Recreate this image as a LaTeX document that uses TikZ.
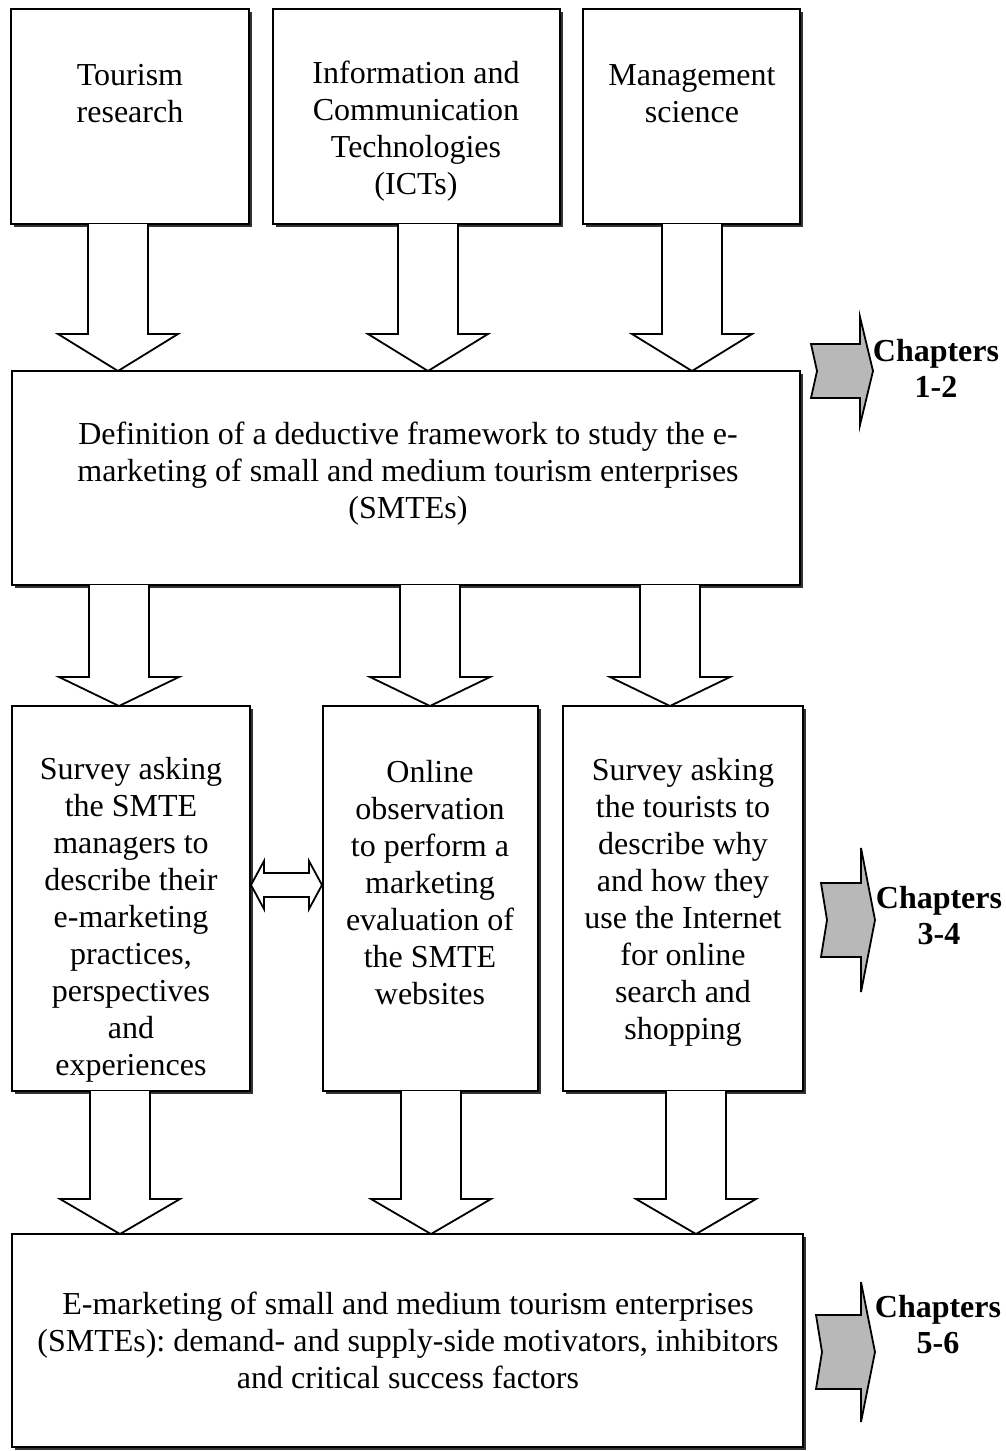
\documentclass[tikz,border=0pt]{standalone}
\usepackage{fontspec}
\setmainfont{Liberation Serif}
\frenchspacing
\usetikzlibrary{shadows,calc}
\newcommand\blkarrow[4]{%
  \fill[white] let \p1=(#1.south), \p2=(#2.north), \p3=(#3,#4) in
    (\x3-30pt,\y1) -- (\x3-30pt,\y3) -- (\x3-60pt,\y3) -- (\x3,\y2) -- (\x3+60pt,\y3) -- (\x3+30pt,\y3) -- (\x3+30pt,\y1) -- cycle;
  \draw[blk] let \p1=(#1.south), \p2=(#2.north), \p3=(#3,#4) in
    (\x3-30pt,\y1) -- (\x3-30pt,\y3) -- (\x3-60pt,\y3) -- (\x3,\y2) -- (\x3+60pt,\y3) -- (\x3+30pt,\y3) -- (\x3+30pt,\y1);
}
\newcommand\chevr[6]{% left, neck, tip, centre y, body half, head half
  \draw[chev] (#1,#4-#5) -- (#2,#4-#5) -- (#2,#4-#6) -- (#3,#4) -- (#2,#4+#6) -- (#2,#4+#5) -- (#1,#4+#5) -- (#1+6,#4) -- cycle;
}
\begin{document}
\begin{tikzpicture}[x=1pt,y=-1pt,
  box/.style={draw, line width=1.9pt, fill=white, inner sep=0pt, outer sep=0pt,
    drop shadow={shadow xshift=3pt, shadow yshift=-3pt, fill=black!80, opacity=1}},
  txt/.style={align=center, inner sep=0pt, font=\fontsize{32}{37}\selectfont},
  chap/.style={align=center, inner sep=0pt, font=\bfseries\fontsize{32}{36}\selectfont},
  blk/.style={draw, line width=1.8pt, line join=miter},
  chev/.style={draw, line width=1.8pt, fill=black!28, line join=miter}]
\useasboundingbox (0,0) rectangle (1006,1451);
\fill[white] (0,0) rectangle (1006,1451);
% boxes
\node[box, minimum width=238pt, minimum height=215pt] (tr) at (130,116.5) {};
\node[box, minimum width=287pt, minimum height=215pt] (ict) at (416.5,116.5) {};
\node[box, minimum width=217pt, minimum height=215pt] (mg) at (691.5,116.5) {};
\node[box, minimum width=788pt, minimum height=214pt] (def) at (406,478) {};
\node[box, minimum width=238pt, minimum height=385pt] (sl) at (131,898.5) {};
\node[box, minimum width=215pt, minimum height=385pt] (obs) at (430.5,898.5) {};
\node[box, minimum width=240pt, minimum height=385pt] (st) at (683,898.5) {};
\node[box, minimum width=791pt, minimum height=213pt] (em) at (407.5,1340.5) {};
% texts
\node[txt] (trT) at (130,94) {Tourism\\research};
\node[txt] (ictT) at (416,131) {Information and\\Communication\\Technologies\\(ICTs)};
\node[txt] (mgT) at (692,94) {Management\\science};
\node[txt] (defT) at (408,474) {Definition of a deductive framework to study the e-\\marketing of small and medium tourism enterprises\\(SMTEs)};
\node[txt] (slT) at (131,920) {Survey asking\\the SMTE\\managers to\\describe their\\e-marketing\\practices,\\perspectives\\and\\experiences};
\node[txt] (obsT) at (430,883) {Online\\observation\\to perform a\\marketing\\evaluation of\\the SMTE\\websites};
\node[txt] (stT) at (683,902) {Survey asking\\the tourists to\\describe why\\and how they\\use the Internet\\for online\\search and\\shopping};
\node[txt] (emT) at (408,1340) {E-marketing of small and medium tourism enterprises\\(SMTEs): demand- and supply-side motivators, inhibitors\\and critical success factors};
% block arrows
\blkarrow{tr}{def}{118}{334}
\blkarrow{ict}{def}{428}{334}
\blkarrow{mg}{def}{692}{334}
\blkarrow{def}{sl}{119}{677}
\blkarrow{def}{obs}{430}{677}
\blkarrow{def}{st}{670}{677}
\blkarrow{sl}{em}{120}{1199}
\blkarrow{obs}{em}{431}{1199}
\blkarrow{st}{em}{696}{1199}
% double arrow
\draw[blk, fill=white] let \p1=(sl.east), \p2=(obs.west), \p3=(0,885) in
  (\x1+1pt,\y3) -- (\x1+14pt,\y3+24pt) -- (\x1+14pt,\y3+12pt) -- (\x2-14pt,\y3+12pt) -- (\x2-14pt,\y3+24pt) -- (\x2-1pt,\y3)
  -- (\x2-14pt,\y3-24pt) -- (\x2-14pt,\y3-12pt) -- (\x1+14pt,\y3-12pt) -- (\x1+14pt,\y3-24pt) -- cycle;
% chapter arrows
\chevr{811}{860}{873}{371}{27}{54}
\chevr{821}{861}{875}{920}{37}{72}
\chevr{816}{861}{875}{1352}{37}{70}
\node[chap] (c12) at (936,368) {Chapters\\1-2};
\node[chap] (c34) at (939,916) {Chapters\\3-4};
\node[chap] (c56) at (938,1325) {Chapters\\5-6};
\end{tikzpicture}
\end{document}
